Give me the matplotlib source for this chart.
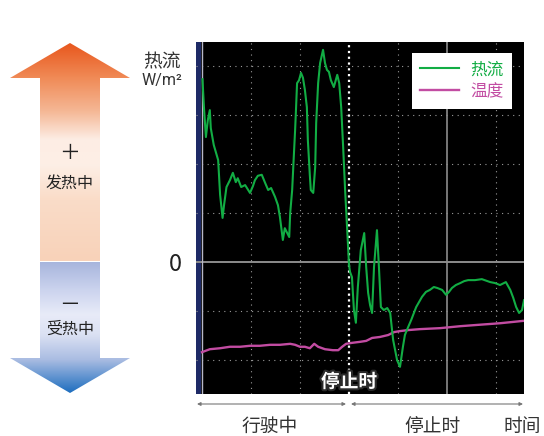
import matplotlib.pyplot as plt
import matplotlib.patheffects as pe
from matplotlib.patches import Polygon
import numpy as np

plt.rcParams['font.family'] = ['Noto Sans CJK SC', 'DejaVu Sans']

# heat flux trace (grid units, zero line = 0, stop moment at x = 3)
flux_x = [0.01, 0.04, 0.08, 0.12, 0.16, 0.18, 0.24, 0.33, 0.37, 0.42, 0.45, 0.50, 0.57, 0.63,
          0.69, 0.73, 0.80, 0.88, 0.98, 1.04, 1.08, 1.14, 1.22, 1.29, 1.35, 1.41, 1.49, 1.55,
          1.59, 1.65, 1.69, 1.73, 1.78, 1.80, 1.84, 1.88, 1.90, 1.92, 1.94, 1.98, 2.02, 2.06,
          2.10, 2.14, 2.16, 2.20, 2.22, 2.27, 2.31, 2.33, 2.37, 2.41, 2.47, 2.51, 2.55, 2.59,
          2.63, 2.69, 2.76, 2.80, 2.84, 2.88, 2.92, 2.96, 3.00, 3.02, 3.06, 3.10, 3.14, 3.18,
          3.24, 3.31, 3.35, 3.39, 3.43, 3.47, 3.51, 3.57, 3.61, 3.65, 3.71, 3.78, 3.84, 3.90,
          3.98, 4.04, 4.10, 4.14, 4.18, 4.27, 4.37, 4.49, 4.57, 4.65, 4.73, 4.80, 4.90, 4.98,
          5.04, 5.10, 5.18, 5.27, 5.35, 5.43, 5.57, 5.71, 5.88, 5.98, 6.08, 6.20, 6.29, 6.35,
          6.41, 6.47, 6.53, 6.57]
flux_y = [3.73, 3.16, 2.55, 2.90, 3.10, 2.73, 2.39, 2.08, 1.37, 0.90, 1.16, 1.53, 1.67, 1.82,
          1.63, 1.71, 1.53, 1.57, 1.41, 1.55, 1.67, 1.76, 1.78, 1.61, 1.47, 1.51, 1.33, 1.16,
          0.92, 0.45, 0.69, 0.61, 0.51, 1.00, 1.47, 2.29, 2.69, 3.16, 3.65, 3.71, 3.86, 3.76,
          3.51, 3.16, 2.49, 1.78, 1.47, 1.41, 1.94, 2.84, 3.65, 4.06, 4.33, 4.06, 3.92, 3.88,
          3.71, 3.57, 3.82, 3.65, 3.16, 2.35, 1.47, 0.71, -0.06, -0.20, -0.31, -0.98, -1.24, -0.51,
          0.24, 0.59, -0.10, -0.63, -0.88, -1.04, -0.10, 0.65, -0.10, -0.92, -0.98, -0.94, -1.04, -1.59,
          -2.00, -2.14, -1.73, -1.49, -1.39, -1.18, -0.92, -0.71, -0.61, -0.57, -0.51, -0.53, -0.57, -0.67,
          -0.61, -0.53, -0.47, -0.43, -0.39, -0.37, -0.37, -0.35, -0.41, -0.43, -0.47, -0.41, -0.57, -0.73,
          -0.92, -1.04, -0.98, -0.78]

# temperature trace
temp_x = [0.0, 0.16, 0.37, 0.57, 0.78, 0.98, 1.18, 1.39, 1.59, 1.80, 1.90, 2.00, 2.10, 2.20,
          2.29, 2.37, 2.51, 2.67, 2.78, 2.86, 2.94, 3.06, 3.22, 3.35, 3.47, 3.63, 3.80, 3.92,
          4.04, 4.20, 4.45, 4.86, 5.27, 5.67, 6.08, 6.57]
temp_y = [-1.84, -1.78, -1.76, -1.73, -1.73, -1.71, -1.71, -1.69, -1.69, -1.67, -1.69, -1.73, -1.73, -1.76,
          -1.67, -1.73, -1.78, -1.80, -1.80, -1.73, -1.67, -1.65, -1.63, -1.61, -1.55, -1.53, -1.49, -1.43,
          -1.41, -1.39, -1.37, -1.35, -1.31, -1.28, -1.25, -1.20]

series_names = ['热流', '温度']
phase_labels = ['行驶中', '停止时', '时间']

green = '#12ad44'
magenta = '#c24ca2'

fig = plt.figure(figsize=(5.44, 4.36), dpi=100)

# background layer in pixel coordinates
bg = fig.add_axes([0, 0, 1, 1])
bg.set_xlim(0, 544)
bg.set_ylim(436, 0)
bg.axis('off')


def gradient(stops, n=200):
    pos = np.array([s[0] for s in stops], dtype=float)
    cols = np.array([[int(s[1][i:i + 2], 16) / 255 for i in (1, 3, 5)] for s in stops])
    t = np.linspace(pos[0], pos[-1], n)
    rgb = np.stack([np.interp(t, pos, cols[:, k]) for k in range(3)], axis=1)
    return rgb[:, None, :]


up_stops = [(43, '#e8561c'), (78, '#f08a56'), (112, '#f5b896'), (140, '#fdede4'),
            (165, '#fdefe6'), (200, '#fadcc8'), (261, '#f8d2b9')]
down_stops = [(262, '#a6b4dc'), (290, '#cbd3ee'), (315, '#e8ebf8'), (335, '#dbe1f3'),
              (360, '#a9bce2'), (393, '#1e6ebf')]

up_poly = Polygon([(70, 43), (130, 78), (100, 78), (100, 261), (40, 261), (40, 78), (10, 78)],
                  closed=True, facecolor='none', edgecolor='none')
down_poly = Polygon([(40, 262), (100, 262), (100, 358), (130, 358), (70, 393), (10, 358), (40, 358)],
                    closed=True, facecolor='none', edgecolor='none')
bg.add_patch(up_poly)
bg.add_patch(down_poly)
im1 = bg.imshow(gradient(up_stops), extent=(10, 130, 261, 43), origin='upper', aspect='auto')
im1.set_clip_path(up_poly)
im2 = bg.imshow(gradient(down_stops), extent=(10, 130, 393, 262), origin='upper', aspect='auto')
im2.set_clip_path(down_poly)
bg.set_xlim(0, 544)
bg.set_ylim(436, 0)

bg.text(70, 153, '＋', ha='center', va='center', fontsize=15, color='#222222')
bg.text(70, 183, '发热中', ha='center', va='center', fontsize=11.5, color='#222222')
bg.text(70, 305, '－', ha='center', va='center', fontsize=15, color='#222222')
bg.text(70, 329, '受热中', ha='center', va='center', fontsize=11.5, color='#222222')

bg.text(162, 62, '热流', ha='center', va='center', fontsize=13.5, color='#333333')
bg.text(142, 81, 'W/m²', ha='left', va='center', fontsize=11.5, color='#333333',
        family=['Roboto', 'DejaVu Sans'])

# phase arrows below the plot
arrow_kw = dict(arrowstyle='<|-|>', color='#777777', lw=0.8, mutation_scale=5,
                shrinkA=0, shrinkB=0)
bg.annotate('', xy=(197, 404), xytext=(346, 404), arrowprops=arrow_kw)
bg.annotate('', xy=(351, 404), xytext=(523, 404), arrowprops=arrow_kw)
bg.text(270, 426, phase_labels[0], ha='center', va='center', fontsize=13.5, color='#333333')
bg.text(433, 426, phase_labels[1], ha='center', va='center', fontsize=13.5, color='#333333')
bg.text(522, 426, phase_labels[2], ha='center', va='center', fontsize=13.5, color='#333333')

# main chart
ax = fig.add_axes([196 / 544, (436 - 394) / 436, 328 / 544, 352 / 436])
ax.set_facecolor('black')
ax.set_xlim(-0.122, 6.57)
ax.set_ylim(-2.694, 4.49)
for s in ax.spines.values():
    s.set_visible(False)

dots = (0, (1, 4))
for gx in [1, 2, 4, 6]:
    ax.axvline(gx, color='#9a9a9a', lw=0.8, ls=dots)
for gy in [-2, -1, 1, 2, 3, 4]:
    ax.axhline(gy, color='#9a9a9a', lw=0.8, ls=dots)
ax.axvline(5, color='#8c8c8c', lw=1.2)
ax.axhline(0, color='#8c8c8c', lw=1.4)
ax.axvspan(-0.122, -0.02, color='#1e2a66', lw=0)
ax.axvline(0, color='#b8b8c8', lw=1.0)
ax.axvline(3, color='white', lw=1.6, ls=(0, (1, 1.6)))

ax.plot(temp_x, temp_y, color=magenta, lw=1.7, label=series_names[1], zorder=3)
ax.plot(flux_x, flux_y, color=green, lw=1.5, label=series_names[0], zorder=4)

handles, labels = ax.get_legend_handles_labels()
leg = ax.legend(handles[::-1], labels[::-1], loc='upper right', bbox_to_anchor=(0.963, 0.969),
                borderaxespad=0, fancybox=False, framealpha=1, edgecolor='white',
                fontsize=12, handlelength=2.3, handletextpad=0.7, labelspacing=0.3,
                borderpad=0.5)
leg.get_frame().set_linewidth(0)
for txt, c in zip(leg.get_texts(), [green, magenta]):
    txt.set_color(c)

ax.text(3.0, -2.45, '停止时', ha='center', va='center', fontsize=13.5, fontweight='bold',
        color='white', path_effects=[pe.withStroke(linewidth=3, foreground='#2a2a2a')], zorder=6)

ax.set_xticks([])
ax.set_yticks([0])
ax.set_yticklabels(['0'], fontsize=17, color='#222222')
ax.tick_params(axis='y', length=0, pad=10)

fig.savefig('out.png', dpi=100)
